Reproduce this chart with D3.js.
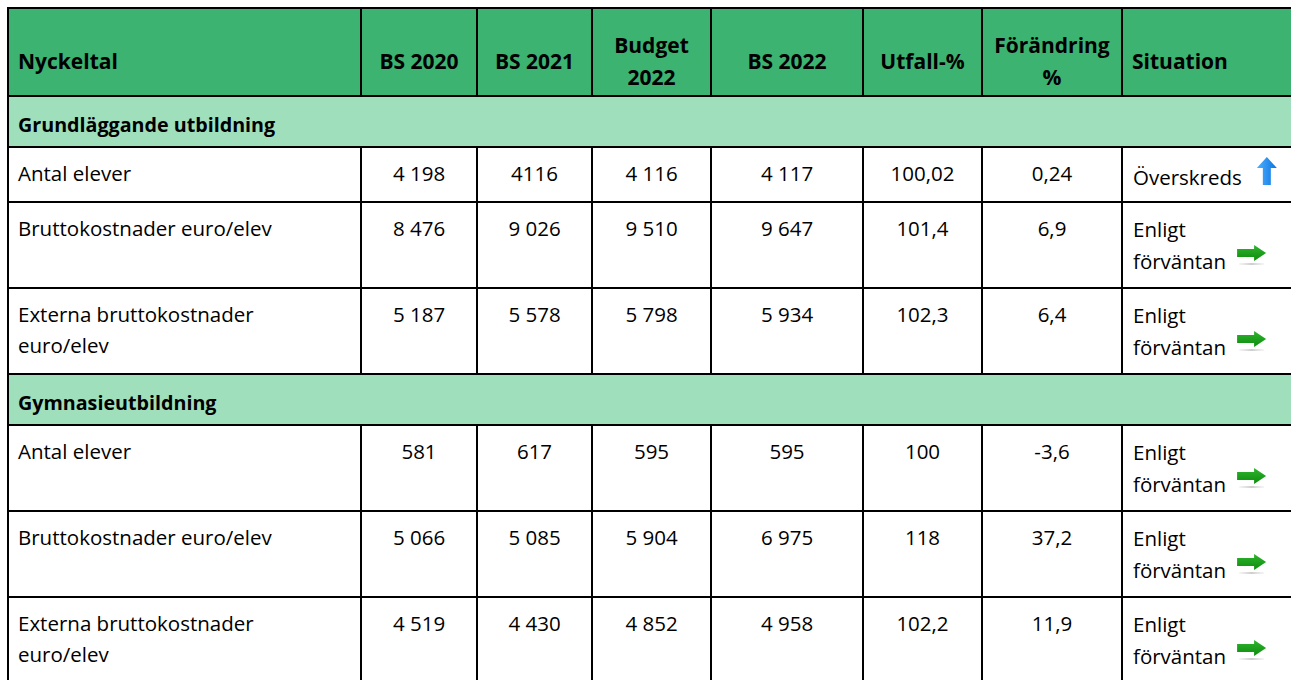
<!DOCTYPE html>
<html>
<head>
<meta charset="utf-8">
<script src="https://cdn.jsdelivr.net/npm/d3@7"></script>
<style>
  body { margin: 0; background: #fff; }
  svg { display: block; }
  text { font-family: "Open Sans", sans-serif; fill: #000; }
</style>
</head>
<body>
<div id="chart"></div>
<script>
const kWidth = 1291;
const kHeight = 680;

// table content
const headers = ["Nyckeltal", "BS 2020", "BS 2021", "Budget 2022", "BS 2022", "Utfall-%", "Förändring %", "Situation"];
const groups = ["Grundläggande utbildning", "Gymnasieutbildning"];
const rowGroup = [0, 0, 0, 1, 1, 1];
const rowLabels = ["Antal elever", "Bruttokostnader euro/elev", "Externa bruttokostnader euro/elev",
                   "Antal elever", "Bruttokostnader euro/elev", "Externa bruttokostnader euro/elev"];
const bs2020 = ["4 198", "8 476", "5 187", "581", "5 066", "4 519"];
const bs2021 = ["4116", "9 026", "5 578", "617", "5 085", "4 430"];
const budget2022 = ["4 116", "9 510", "5 798", "595", "5 904", "4 852"];
const bs2022 = ["4 117", "9 647", "5 934", "595", "6 975", "4 958"];
const utfall = ["100,02", "101,4", "102,3", "100", "118", "102,2"];
const change = ["0,24", "6,9", "6,4", "-3,6", "37,2", "11,9"];
const situation = ["Överskreds", "Enligt förväntan", "Enligt förväntan", "Enligt förväntan", "Enligt förväntan", "Enligt förväntan"];
const trend = ["up", "right", "right", "right", "right", "right"];

// layout
const kLeft = 8;
const kTop = 8;
const colWidths = [353, 116, 115, 119, 152, 119, 140, 190];
const kPad = 10;
const kLine = 31;
const kHeaderH = 88;
const kGroupH = 51;
const kBodySize = 20.5;
const kGroupSize = 19.7;
const kHeadSize = 21;
const kHeaderColor = "#3cb371";
const kGroupColor = "#9fdfbc";

const colX = [kLeft];
colWidths.forEach(w => colX.push(colX[colX.length - 1] + w));

const svg = d3.select("#chart")
  .append("svg")
  .attr("width", kWidth)
  .attr("height", kHeight);

const defs = svg.append("defs");
const blueGrad = defs.append("linearGradient").attr("id", "blueGrad").attr("x1", 0).attr("x2", 1).attr("y1", 0).attr("y2", 0);
blueGrad.append("stop").attr("offset", "0%").attr("stop-color", "#4fb0ff");
blueGrad.append("stop").attr("offset", "100%").attr("stop-color", "#0b74e0");
const greenGrad = defs.append("linearGradient").attr("id", "greenGrad").attr("x1", 0).attr("x2", 0).attr("y1", 0).attr("y2", 1);
greenGrad.append("stop").attr("offset", "0%").attr("stop-color", "#2fb52f");
greenGrad.append("stop").attr("offset", "100%").attr("stop-color", "#0c8c0c");
const shadowGrad = defs.append("linearGradient").attr("id", "shadowGrad").attr("x1", 0).attr("x2", 1).attr("y1", 0).attr("y2", 0);
shadowGrad.append("stop").attr("offset", "0%").attr("stop-color", "#d0d0d0").attr("stop-opacity", 0.2);
shadowGrad.append("stop").attr("offset", "50%").attr("stop-color", "#c8c8c8").attr("stop-opacity", 0.9);
shadowGrad.append("stop").attr("offset", "100%").attr("stop-color", "#d0d0d0").attr("stop-opacity", 0.2);

const measure = svg.append("text").attr("x", -1000).attr("y", -1000);

function textWidth(str, size, weight)
{
  measure.style("font-size", size + "px").style("font-weight", weight).text(str);
  return measure.node().getComputedTextLength();
}

function wrap(str, size, weight, maxW)
{
  const words = str.split(" ");
  const lines = [];
  let cur = "";
  words.forEach(w => {
    const test = cur ? cur + " " + w : w;
    if (cur && textWidth(test, size, weight) > maxW) {
      lines.push(cur);
      cur = w;
    } else {
      cur = test;
    }
  });
  lines.push(cur);
  return lines;
}

// build the rows: header, group, data...
const rows = [{ type: "header" }];
groups.forEach((g, gi) => {
  rows.push({ type: "group", label: g });
  rowLabels.forEach((lab, i) => {
    if (rowGroup[i] === gi) rows.push({ type: "data", i: i });
  });
});

const dataCols = [bs2020, bs2021, budget2022, bs2022, utfall, change];

let y = kTop;
rows.forEach(r => {
  r.y = y;
  if (r.type === "header") {
    r.cells = headers.map((h, c) => wrap(h, kHeadSize, "bold", colWidths[c] - 2 * kPad - 4));
    r.h = kHeaderH;
  } else if (r.type === "group") {
    r.h = kGroupH;
  } else {
    r.label = wrap(rowLabels[r.i], kBodySize, "normal", 300);
    r.sit = wrap(situation[r.i], kBodySize, "normal", 125);
    r.sitEnd = textWidth(r.sit[r.sit.length - 1], kBodySize, "normal");
    const n = Math.max(r.label.length, r.sit.length);
    r.h = n * kLine + 24;
  }
  y += r.h;
});
measure.remove();

const table = svg.append("g");

// backgrounds
table.selectAll("rect.bg")
  .data(rows.filter(r => r.type !== "data"))
  .enter()
  .append("rect")
  .attr("class", "bg")
  .attr("x", kLeft)
  .attr("y", d => d.y)
  .attr("width", kWidth)
  .attr("height", d => d.h)
  .attr("fill", d => d.type === "header" ? kHeaderColor : kGroupColor);

// header text
const hdr = rows[0];
headers.forEach((h, c) => {
  const lines = hdr.cells[c];
  const left = c === 0 || c === headers.length - 1;
  const cx = left ? colX[c] + kPad : colX[c] + colWidths[c] / 2;
  const t = table.append("text")
    .attr("text-anchor", left ? "start" : "middle")
    .style("font-size", kHeadSize + "px")
    .style("font-weight", "bold");
  lines.forEach((ln, k) => {
    t.append("tspan")
      .attr("x", cx)
      .attr("y", hdr.y + 61 - (lines.length - 1) * 16 + k * 32)
      .text(ln);
  });
});

// group text
rows.filter(r => r.type === "group").forEach(r => {
  table.append("text")
    .attr("x", kLeft + kPad)
    .attr("y", r.y + 36)
    .style("font-size", kGroupSize + "px")
    .style("font-weight", "bold")
    .text(r.label);
});

// data rows
rows.filter(r => r.type === "data").forEach(r => {
  const t = table.append("text")
    .style("font-size", kBodySize + "px");
  r.label.forEach((ln, k) => {
    t.append("tspan").attr("x", colX[0] + kPad).attr("y", r.y + 34 + k * kLine).text(ln);
  });

  dataCols.forEach((col, c) => {
    table.append("text")
      .attr("x", colX[c + 1] + colWidths[c + 1] / 2)
      .attr("y", r.y + 34)
      .attr("text-anchor", "middle")
      .style("font-size", kBodySize + "px")
      .text(col[r.i]);
  });

  const sx = colX[7] + 11;
  const single = r.sit.length === 1;
  const base0 = r.y + (single ? 38 : 35);
  const st = table.append("text").style("font-size", kBodySize + "px");
  r.sit.forEach((ln, k) => {
    st.append("tspan").attr("x", sx).attr("y", base0 + k * (kLine + 1)).text(ln);
  });
  const lastBase = base0 + (r.sit.length - 1) * (kLine + 1);
  const endX = sx + r.sitEnd;

  if (trend[r.i] === "up") {
    const x0 = endX + 15;
    const p = d3.path();
    p.moveTo(x0 + 10, lastBase - 28);
    p.lineTo(x0 + 20, lastBase - 17);
    p.lineTo(x0 + 14, lastBase - 17);
    p.lineTo(x0 + 14, lastBase);
    p.lineTo(x0 + 6, lastBase);
    p.lineTo(x0 + 6, lastBase - 17);
    p.lineTo(x0, lastBase - 17);
    p.closePath();
    table.append("path").attr("d", p.toString()).attr("fill", "url(#blueGrad)");
  } else {
    const x0 = endX + 11;
    const cy = lastBase - 16;
    table.append("rect")
      .attr("x", x0 + 2).attr("y", cy + 10)
      .attr("width", 25).attr("height", 2)
      .attr("fill", "url(#shadowGrad)");
    const p = d3.path();
    p.moveTo(x0, cy - 4);
    p.lineTo(x0 + 17, cy - 4);
    p.lineTo(x0 + 17, cy - 8);
    p.lineTo(x0 + 29, cy);
    p.lineTo(x0 + 17, cy + 8);
    p.lineTo(x0 + 17, cy + 4);
    p.lineTo(x0, cy + 4);
    p.closePath();
    table.append("path").attr("d", p.toString()).attr("fill", "url(#greenGrad)");
  }
});

// grid lines
const grid = svg.append("g")
  .attr("stroke", "#000")
  .attr("stroke-width", 2);

rows.forEach(r => {
  grid.append("line")
    .attr("x1", kLeft - 1).attr("x2", kWidth)
    .attr("y1", r.y).attr("y2", r.y);
});
grid.append("line")
  .attr("x1", kLeft - 1).attr("x2", kWidth)
  .attr("y1", y).attr("y2", y);

grid.append("line")
  .attr("x1", kLeft).attr("x2", kLeft)
  .attr("y1", kTop).attr("y2", y);

rows.filter(r => r.type !== "group").forEach(r => {
  colX.slice(1, colX.length - 1).forEach(x => {
    grid.append("line")
      .attr("x1", x).attr("x2", x)
      .attr("y1", r.y).attr("y2", r.y + r.h);
  });
});
</script>
</body>
</html>
